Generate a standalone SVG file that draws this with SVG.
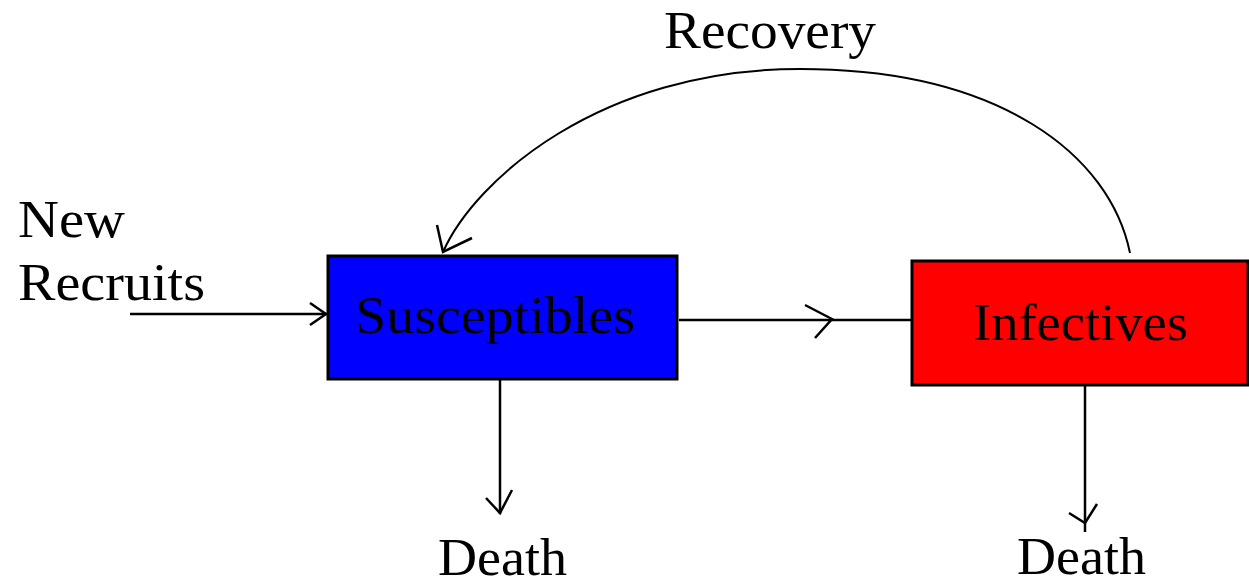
<svg xmlns="http://www.w3.org/2000/svg" width="1249" height="587" viewBox="0 0 1249 587">
<style>
text{font-family:"Liberation Serif","Times New Roman",serif;font-size:52px;fill:#000}
.ln{fill:none;stroke:#000;stroke-width:2.5}
.arc{fill:none;stroke:#000;stroke-width:2}
.box{stroke:#000;stroke-width:3}
</style>
<rect width="1249" height="587" fill="#fff"/>
<g id="connectors">
<path class="ln" d="M130,314 H327"/>
<path class="ln" d="M310,303 L326,314 L310,325"/>
<path class="ln" d="M679,320 H911"/>
<path class="ln" d="M805,305 L832,319 L815,338"/>
<path class="ln" d="M500,380 V514"/>
<path class="ln" d="M486,498 L500,513 L512,490"/>
<path class="ln" d="M1085,386 V532"/>
<path class="ln" d="M1069,513 L1085,523 L1097,504"/>
<path class="arc" d="M443,252 C475,180 600,69 800,69 C1000,69 1110,155 1130,253"/>
<path class="ln" d="M437,225 L443,252 L472,238"/>
</g>
<g id="susceptibles">
<rect class="box" x="328" y="256" width="349" height="123" fill="#0000FF"/>
<text x="355" y="333" textLength="280" lengthAdjust="spacingAndGlyphs">Susceptibles</text>
</g>
<g id="infectives">
<rect class="box" x="912" y="261" width="336" height="124" fill="#FF0000"/>
<text x="973" y="340" textLength="215" lengthAdjust="spacingAndGlyphs">Infectives</text>
</g>
<g id="labels">
<text x="664" y="48" textLength="212" lengthAdjust="spacingAndGlyphs">Recovery</text>
<text x="18" y="237" textLength="107" lengthAdjust="spacingAndGlyphs">New</text>
<text x="18" y="300" textLength="187" lengthAdjust="spacingAndGlyphs">Recruits</text>
<text x="438" y="575" textLength="129" lengthAdjust="spacingAndGlyphs">Death</text>
<text x="1017" y="574" textLength="129" lengthAdjust="spacingAndGlyphs">Death</text>
</g>
</svg>
